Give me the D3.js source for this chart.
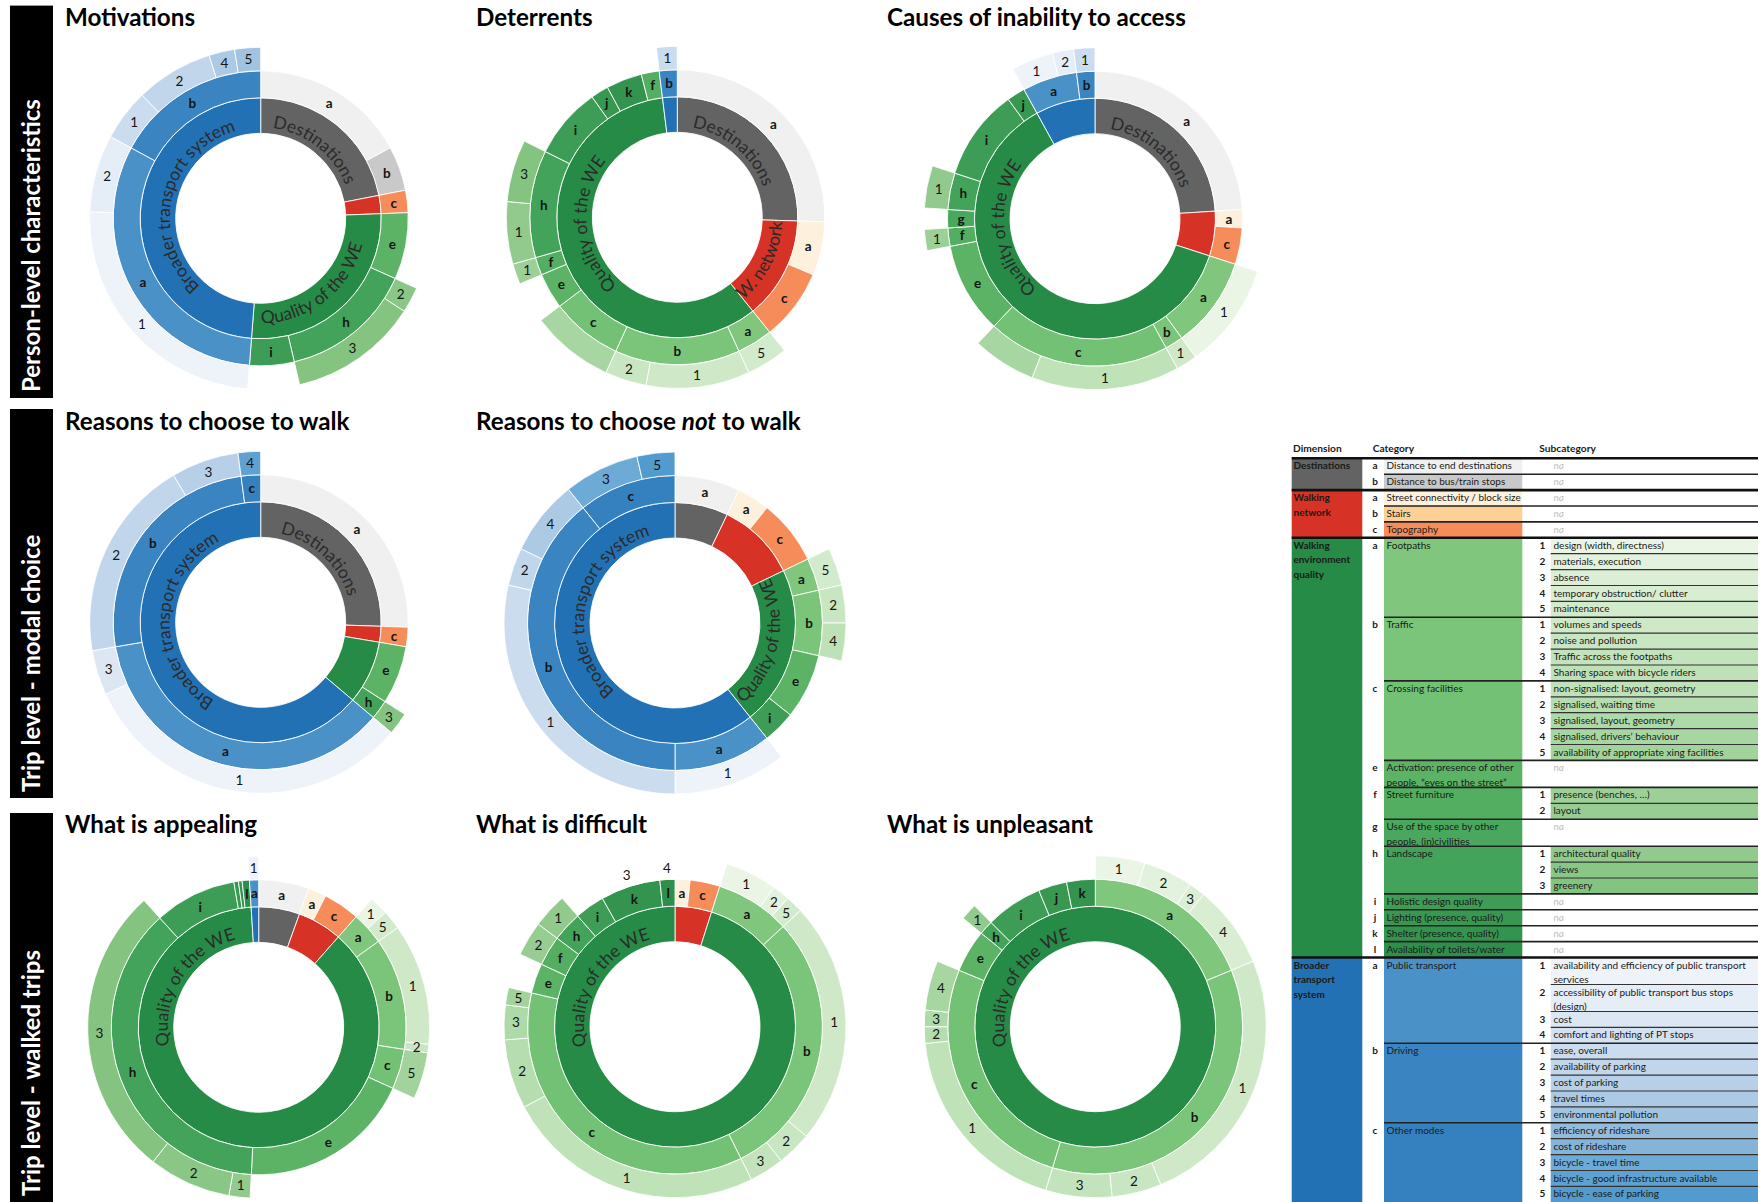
<!DOCTYPE html>
<html><head><meta charset="utf-8">
<script src="https://cdn.jsdelivr.net/npm/d3@7"></script>
<style>
html,body{margin:0;padding:0;background:#fff;}
svg{display:block;font-family:Lato,"Open Sans",sans-serif;}
</style></head><body>
<svg id="fig" width="1758" height="1202"></svg>
<script>
// ---------- data ----------
// sunburst rows: dimension, category, subcategory (null = none, "~n" = unlabelled), count
const motivations = [
  ["D","a",null,7],["D","b",null,2],
  ["W","c",null,1],
  ["Q","e",null,3],["Q","h","2",1],["Q","h","3",5],["Q","i",null,2],
  ["B","a","1",10],["B","a","2",3],["B","b","1",2],["B","b","2",3],["B","b","4",1],["B","b","5",1]
];
const deterrents = [
  ["D","a",null,13],
  ["W","a",null,3],["W","c",null,4],
  ["Q","a","5",2],["Q","b","1",5],["Q","b","2",2],["Q","c","~4",4],["Q","e",null,2],["Q","f","1",1],
  ["Q","h","1",3],["Q","h","3",3],["Q","i",null,4],["Q","j",null,1],["Q","k",null,2],["Q","f",null,1],
  ["B","b","1",1]
];
const accessBarriers = [
  ["D","a",null,12],
  ["W","a",null,1],["W","c",null,2],
  ["Q","a","1",5],["Q","b","1",1],["Q","c","1",7],["Q","c","~4",3],["Q","e",null,5],["Q","f","1",1],
  ["Q","g",null,1],["Q","h","1",2],["Q","i",null,5],["Q","j",null,1],
  ["B","a","1",2],["B","a","2",1],["B","b","1",1]
];
const walkReasons = [
  ["D","a",null,12],
  ["W","c",null,1],
  ["Q","e",null,3],["Q","h","3",1],
  ["B","a","1",15],["B","a","3",2],["B","b","2",9],["B","b","3",3],["B","c","4",1]
];
const notWalkReasons = [
  ["D","a",null,2],
  ["W","a",null,1],["W","c",null,2],
  ["Q","a","5",1],["Q","b","2",1],["Q","b","4",1],["Q","e",null,2],["Q","i",null,1],
  ["B","a","1",3],["B","b","1",8],["B","b","2",1],["B","b","4",2],["B","c","3",2],["B","c","5",1]
];
const appealing = [
  ["D","a",null,5.5],
  ["W","a",null,2],["W","c",null,4],
  ["Q","a","1",1.8],["Q","a","5",1.8],["Q","b","1",11.5],["Q","b","2",0.8],["Q","c","5",4.4],["Q","e",null,19],
  ["Q","h","1",2],["Q","h","2",7.8],["Q","h","3",27.7],["Q","i",null,9],["Q","j",null,0.5],["Q","k",null,0.4],["Q","l",null,0.8],
  ["B","a","1",1]
];
const difficult = [
  ["W","a",null,1],["W","c",null,2],
  ["Q","a","1",3],["Q","a","2",1],["Q","a","5",1],["Q","b","1",14],["Q","b","2",2],["Q","b","3",2],
  ["Q","c","1",15],["Q","c","2",4],["Q","c","3",2],["Q","c","5",1],["Q","e",null,2],["Q","f","2",2],
  ["Q","h","1",2],["Q","i",null,2],["Q","k","3",4],["Q","l","4",1]
];
const unpleasant = [
  ["Q","a","1",3],["Q","a","2",3],["Q","a","3",1],["Q","a","4",5],["Q","b","1",16],["Q","b","2",3],["Q","b","3",4],
  ["Q","c","1",12],["Q","c","2",1],["Q","c","3",1],["Q","c","4",3],["Q","e",null,3],["Q","h","1",1],
  ["Q","i",null,4],["Q","j",null,2],["Q","k",null,2]
];

const dimensionLabels = {D:"Destinations", W:"W. network", Q:"Quality of the WE", B:"Broader transport system"};

// classification table
const tableDimensions = [
  ["D","Destinations"],
  ["W","Walking\nnetwork"],
  ["Q","Walking\nenvironment\nquality"],
  ["B","Broader\ntransport\nsystem"]
];
const tableCategories = [
  ["D","a","Distance to end destinations"],
  ["D","b","Distance to bus/train stops"],
  ["W","a","Street connectivity / block size"],
  ["W","b","Stairs"],
  ["W","c","Topography"],
  ["Q","a","Footpaths"],
  ["Q","b","Traffic"],
  ["Q","c","Crossing facilities"],
  ["Q","e","Activation: presence of other\npeople, \u201ceyes on the street\u201d"],
  ["Q","f","Street furniture"],
  ["Q","g","Use of the space by other\npeople, (in)civilities"],
  ["Q","h","Landscape"],
  ["Q","i","Holistic design quality"],
  ["Q","j","Lighting (presence, quality)"],
  ["Q","k","Shelter (presence, quality)"],
  ["Q","l","Availability of toilets/water"],
  ["B","a","Public transport"],
  ["B","b","Driving"],
  ["B","c","Other modes"]
];
const tableSubcategories = [
  ["Q","a","1","design (width, directness)"],
  ["Q","a","2","materials, execution"],
  ["Q","a","3","absence"],
  ["Q","a","4","temporary obstruction/ clutter"],
  ["Q","a","5","maintenance"],
  ["Q","b","1","volumes and speeds"],
  ["Q","b","2","noise and pollution"],
  ["Q","b","3","Traffic across the footpaths"],
  ["Q","b","4","Sharing space with bicycle riders"],
  ["Q","c","1","non-signalised: layout, geometry"],
  ["Q","c","2","signalised, waiting time"],
  ["Q","c","3","signalised, layout, geometry"],
  ["Q","c","4","signalised, drivers\u2019 behaviour"],
  ["Q","c","5","availability of appropriate xing facilities"],
  ["Q","f","1","presence (benches, \u2026)"],
  ["Q","f","2","layout"],
  ["Q","h","1","architectural quality"],
  ["Q","h","2","views"],
  ["Q","h","3","greenery"],
  ["B","a","1","availability and efficiency of public transport\nservices"],
  ["B","a","2","accessibility of public transport bus stops\n(design)"],
  ["B","a","3","cost"],
  ["B","a","4","comfort and lighting of PT stops"],
  ["B","b","1","ease, overall"],
  ["B","b","2","availability of parking"],
  ["B","b","3","cost of parking"],
  ["B","b","4","travel times"],
  ["B","b","5","environmental pollution"],
  ["B","c","1","efficiency of rideshare"],
  ["B","c","2","cost of rideshare"],
  ["B","c","3","bicycle - travel time"],
  ["B","c","4","bicycle - good infrastructure available"],
  ["B","c","5","bicycle - ease of parking"]
];

// ---------- colours ----------
const dimColor = {D:"#636363", W:"#d73226", Q:"#268b46", B:"#2271b5"};
const catColor = {
  D:{a:"#f0f0f0", b:"#c9c9c9"},
  W:{a:"#fdf0dc", b:"#fdd195", c:"#f68c5a"},
  Q:{a:"#80c77d", b:"#7bc57a", c:"#72c174", e:"#5cb366", f:"#54ae61", g:"#4aa85e",
     h:"#44a35a", i:"#3d9c55", j:"#389852", k:"#33944f", l:"#2e8f4b"},
  B:{a:"#4a91c8", b:"#3b84c2", c:"#3580be"}
};
const subColor = {
  Q:{a:["#eaf5e6","#e3f2de","#dcefd6","#d8edd2","#d3ebcd"],
     b:["#cfe9c8","#c9e6c2","#c3e3bc","#bfe1b8"],
     c:["#bfe2b8","#b6ddaf","#aed9a8","#a8d6a2","#a2d39c"],
     f:["#9dd097","#97cd92"],
     h:["#91ca8c","#8ac686","#84c380"]},
  B:{a:["#eef3fa","#e5edf7","#dce7f3","#d3e1f0"],
     b:["#cbdcee","#c1d6ea","#b7d0e7","#accae3","#a2c3e0"],
     c:["#93bbdc","#86b4d9","#6eaad6","#5fa2d2","#519bce"]}
};
function subFill(dim, cat, sub) {
  const n = +String(sub).replace("~","");
  const list = subColor[dim] && subColor[dim][cat];
  return list && list[n-1] ? list[n-1] : "#ffffff";
}

// ---------- layout ----------
const R = [85, 120.5, 147.5, 171];
const charts = [
  {title:[["Motivations",false]], tx:65, ty:26, rows:motivations, cx:260.7, cy:218.3, labelAt:{D:38,Q:142,B:283}},
  {title:[["Deterrents",false]], tx:476, ty:26, rows:deterrents, cx:677.3, cy:217.3, labelAt:{D:40,W:117,Q:265}},
  {title:[["Causes of inability to access",false]], tx:887, ty:26, rows:accessBarriers, cx:1095, cy:218.7, labelAt:{D:40,Q:263}},
  {title:[["Reasons to choose to walk",false]], tx:65, ty:430, rows:walkReasons, cx:260.7, cy:622.3, labelAt:{D:43,B:272}},
  {title:[["Reasons to choose ",false],["not",true],[" to walk",false]], tx:476, ty:430, rows:notWalkReasons, cx:675, cy:623, labelAt:{B:283,Q:102}},
  {title:[["What is appealing",false]], tx:65, ty:833, rows:appealing, cx:258.7, cy:1027.3, labelAt:{Q:302}},
  {title:[["What is difficult",false]], tx:476, ty:833, rows:difficult, cx:675, cy:1026.7, labelAt:{Q:301}},
  {title:[["What is unpleasant",false]], tx:887, ty:833, rows:unpleasant, cx:1095.3, cy:1026.7, labelAt:{Q:301}}
];
const bands = [
  {label:"Person-level characteristics", y0:5.6, y1:398},
  {label:"Trip level - modal choice", y0:409, y1:798},
  {label:"Trip level - walked trips", y0:813, y1:1202}
];

const svg = d3.select("#fig");
const defs = svg.append("defs");

// ---------- side bands ----------
bands.forEach(b => {
  svg.append("rect").attr("x",10).attr("y",b.y0).attr("width",43).attr("height",b.y1-b.y0).attr("fill","#000");
  svg.append("text").attr("transform",`translate(40,${b.y1-6}) rotate(-90)`)
    .attr("fill","#fff").attr("font-weight",700).attr("font-size",24).text(b.label);
});

// ---------- sunbursts ----------
function buildTree(rows) {
  const root = {children:[]};
  let dimNode = null, catNode = null;
  rows.forEach(([dim,cat,sub,value]) => {
    if (!dimNode || dimNode.dim !== dim) { dimNode = {dim, children:[]}; root.children.push(dimNode); catNode = null; }
    if (!catNode || catNode.cat !== cat) { catNode = {dim, cat, children:[]}; dimNode.children.push(catNode); }
    catNode.children.push({dim, cat, sub, value});
  });
  return root;
}

charts.forEach((cfg, ci) => {
  const t = svg.append("text").attr("x",cfg.tx).attr("y",cfg.ty)
    .attr("font-size",24.2).attr("font-weight",700).attr("fill","#000");
  cfg.title.forEach(([s,it]) => t.append("tspan").attr("font-style", it ? "italic" : null).text(s));

  const g = svg.append("g").attr("transform",`translate(${cfg.cx},${cfg.cy})`);
  const root = d3.hierarchy(buildTree(cfg.rows)).sum(d => d.value || 0);
  d3.partition().size([2*Math.PI, 4])(root);

  const arc = d3.arc()
    .startAngle(d => d.x0).endAngle(d => d.x1)
    .innerRadius(d => R[d.depth-1]).outerRadius(d => R[d.depth]);

  const nodes = root.descendants().filter(d => d.depth > 0 && !(d.depth === 3 && d.data.sub == null));
  const fill = d => d.depth === 1 ? dimColor[d.data.dim]
                  : d.depth === 2 ? catColor[d.data.dim][d.data.cat]
                  : subFill(d.data.dim, d.data.cat, d.data.sub);

  g.selectAll("path.seg").data(nodes).join("path").attr("class","seg")
    .attr("d", arc).attr("fill", fill)
    .attr("stroke","#fff").attr("stroke-width",1).attr("stroke-opacity",0.85);

  // category letters and subcategory numbers
  const labelled = nodes.filter(d => {
    if (d.depth === 1) return false;
    if (d.depth === 3 && String(d.data.sub).startsWith("~")) return false;
    const rm = (R[d.depth-1] + R[d.depth]) / 2;
    return (d.x1 - d.x0) * rm >= 5.5;
  });
  g.selectAll("text.lab").data(labelled).join("text").attr("class","lab")
    .attr("transform", d => `translate(${arc.centroid(d)})`)
    .attr("text-anchor","middle").attr("dy","0.36em")
    .attr("font-size",13.5).attr("font-weight", d => d.depth === 2 ? 700 : 400)
    .attr("fill","#151515")
    .text(d => d.depth === 2 ? d.data.cat : d.data.sub);

  // dimension names curved along the inner ring
  root.children.forEach(d => {
    const dim = d.data.dim;
    const span = d.x1 - d.x0;
    const deg = cfg.labelAt && cfg.labelAt[dim] != null ? cfg.labelAt[dim] : (d.x0 + d.x1) / 2 * 180 / Math.PI;
    const ccw = deg > 90 && deg < 200;
    const r = ccw ? 105 : 91;
    const a0 = (deg - 100) * Math.PI / 180, a1 = (deg + 100) * Math.PI / 180;
    const p = a => [(r*Math.sin(a)).toFixed(2), (-r*Math.cos(a)).toFixed(2)].join(",");
    const id = `lp${ci}${dim}`;
    defs.append("path").attr("id", id)
      .attr("d", ccw ? `M${p(a1)}A${r},${r} 0 1 0 ${p(a0)}` : `M${p(a0)}A${r},${r} 0 1 1 ${p(a1)}`);
    const txt = g.append("text").attr("font-size",17.5).attr("fill","#2b2b2b");
    txt.append("textPath").attr("href", "#" + id).attr("startOffset","50%").attr("text-anchor","middle")
      .text(dimensionLabels[dim]);
    const room = span * (R[0] + R[1]) / 2 * 1.1;
    if (txt.node().getComputedTextLength() > room) txt.remove();
  });
});

// ---------- classification table ----------
const col = {dim:1291.7, dimW:70.6, letter:1375, cat:1384, catW:138.3, catText:1386.5,
             num:1542.3, sub:1550.7, subText:1553.5, right:1758};
const rowH = lines => lines > 1 ? 27 : 15.9;
const tbl = svg.append("g").attr("font-size",10).attr("fill","#1a1a1a");

[["Dimension",1293],["Category",1372.7],["Subcategory",1539.3]].forEach(([s,x]) =>
  tbl.append("text").attr("x",x).attr("y",451.5).attr("font-weight",700).attr("font-size",10.2).text(s));

function fitText(sel, maxW) {
  sel.each(function() {
    const w = this.getComputedTextLength();
    if (w > maxW) d3.select(this).attr("textLength", maxW).attr("lengthAdjust","spacingAndGlyphs");
  });
}
function multiline(x, y, str, opts = {}) {
  str.split("\n").forEach((line, i) => {
    const t = tbl.append("text").attr("x",x).attr("y",y + i*14.6).text(line);
    if (opts.weight) t.attr("font-weight",opts.weight);
    if (opts.anchor) t.attr("text-anchor",opts.anchor);
    if (opts.italic) t.attr("font-style","italic");
    if (opts.fill) t.attr("fill",opts.fill);
    if (opts.maxW) fitText(t, opts.maxW);
  });
}

let y = 458.3;
const sepLines = [];
tableDimensions.forEach(([dim, dname]) => {
  const dimTop = y;
  const cats = tableCategories.filter(c => c[0] === dim);
  cats.forEach(([, cat, cname], ciIdx) => {
    const catTop = y;
    const subs = tableSubcategories.filter(s => s[0] === dim && s[1] === cat);
    const rows = subs.length ? subs.map(s => ({num:s[2], text:s[3]})) : [{num:null, text:null, lines:cname.split("\n").length}];
    const rowTops = [];
    rows.forEach(r => {
      const lines = r.text ? r.text.split("\n").length : r.lines;
      rowTops.push([y, rowH(lines), r]);
      y += rowH(lines);
    });
    tbl.insert("rect", ":first-child").attr("x",col.cat).attr("y",catTop).attr("width",col.catW)
      .attr("height",y-catTop).attr("fill",catColor[dim][cat]);
    multiline(col.letter, catTop+11, cat, {weight:700, anchor:"middle"});
    multiline(col.catText, catTop+11, cname, {maxW:col.sub - col.catText - 30});
    rowTops.forEach(([top, h, r], ri) => {
      if (r.num) {
        tbl.insert("rect", ":first-child").attr("x",col.sub).attr("y",top).attr("width",col.right-col.sub)
          .attr("height",h).attr("fill",subFill(dim,cat,r.num));
        multiline(col.num, top+11, r.num, {weight:700, anchor:"middle"});
        multiline(col.subText, top+11, r.text, {maxW:col.right - col.subText - 2});
      } else {
        multiline(col.subText, top+11, "na", {italic:true, fill:"#bdbdbd"});
      }
      if (ri < rowTops.length - 1) sepLines.push([col.sub, top+h, 1.2, "#333"]);
    });
    if (ciIdx < cats.length - 1) sepLines.push([col.cat, y, 1.6, "#222"]);
  });
  tbl.insert("rect", ":first-child").attr("x",col.dim).attr("y",dimTop).attr("width",col.dimW)
    .attr("height",y-dimTop).attr("fill",dimColor[dim]);
  multiline(1293.5, dimTop+11, dname, {weight:700});
  sepLines.push([col.dim, dimTop, 2.6, "#111"]);
});
sepLines.forEach(([x, yy, w, c]) =>
  tbl.append("line").attr("x1",x).attr("x2",col.right).attr("y1",yy).attr("y2",yy)
    .attr("stroke",c).attr("stroke-width",w));
</script>
</body></html>
